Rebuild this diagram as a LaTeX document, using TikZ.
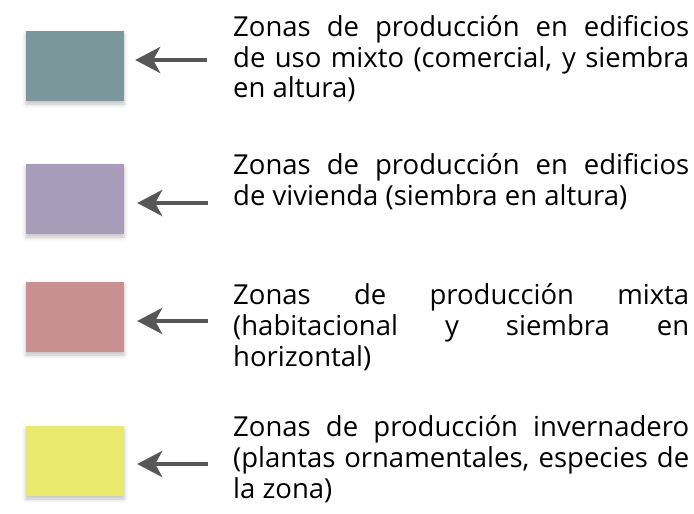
\documentclass[tikz,border=0pt]{standalone}
\usepackage{fontspec}
\setmainfont{Open Sans}
\usetikzlibrary{arrows.meta,shadows.blur}
\definecolor{cteal}{HTML}{7B979C}
\definecolor{cpurple}{HTML}{A99CBB}
\definecolor{cpink}{HTML}{C89090}
\definecolor{cyellow}{HTML}{E9E96E}
\definecolor{arrgray}{HTML}{575757}
\begin{document}
\begin{tikzpicture}[x=1pt,y=-1pt,
  swatch/.style={minimum width=98pt,minimum height=70pt,inner sep=0pt,draw=none,
    blur shadow={shadow xshift=0pt,shadow yshift=-3pt,shadow blur radius=4pt,shadow opacity=25}},
  legtext/.style={anchor=base west,inner sep=0pt,text width=456pt,align=justify,
    font=\fontsize{27.5}{31}\selectfont},
  arr/.style={draw=arrgray,line width=4pt,-{Stealth[length=25pt,width=26pt,inset=7pt]}}]
\useasboundingbox (0,0) rectangle (694,514);
\node[swatch,fill=cteal] (b1) at (75,66) {};
\node[swatch,fill=cpurple] (b2) at (75,199) {};
\node[swatch,fill=cpink] (b3) at (75,317) {};
\node[swatch,fill=cyellow] (b4) at (75,461) {};
\node[legtext] (t1) at (233,36) {Zonas de producción en edificios\linebreak de uso mixto (comercial, y siembra\linebreak en altura)};
\node[legtext] (t2) at (233,174) {Zonas de producción en edificios\linebreak de vivienda (siembra en altura)};
\node[legtext] (t3) at (233,304) {Zonas de producción mixta\linebreak (habitacional y siembra en\linebreak horizontal)};
\node[legtext] (t4) at (233,436) {Zonas de producción invernadero\linebreak (plantas ornamentales, especies de\linebreak la zona)};
\coordinate (a1) at (207,60);
\coordinate (a2) at (208,203);
\coordinate (a3) at (208,321);
\coordinate (a4) at (208,464);
\draw[arr] (a1) -- ([xshift=11pt]a1 -| b1.east);
\draw[arr] (a2) -- ([xshift=13pt]a2 -| b2.east);
\draw[arr] (a3) -- ([xshift=13pt]a3 -| b3.east);
\draw[arr] (a4) -- ([xshift=13pt]a4 -| b4.east);
\end{tikzpicture}
\end{document}
